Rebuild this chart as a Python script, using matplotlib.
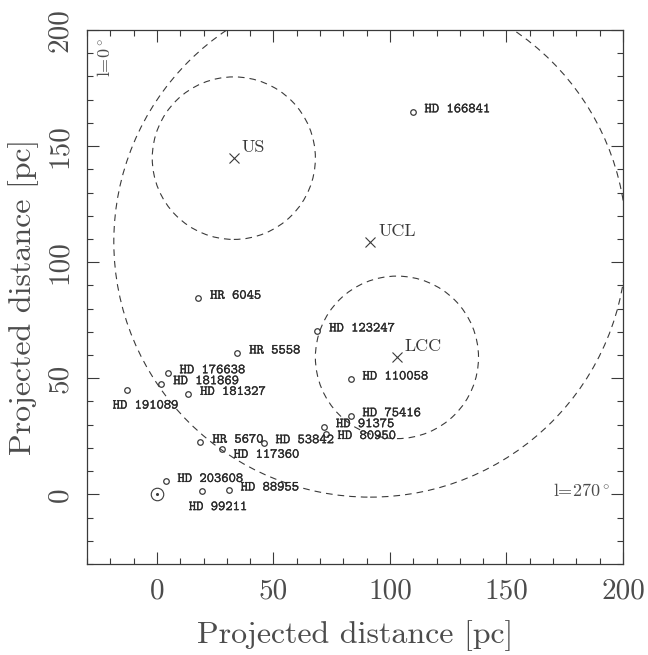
import matplotlib
matplotlib.use("Agg")
import matplotlib.pyplot as plt
from matplotlib.patches import Circle
import matplotlib.patheffects as pe

plt.rcParams['mathtext.fontset'] = 'cm'
plt.rcParams['axes.formatter.use_mathtext'] = True

# ---------------- data ----------------
star_names = ["HD 166841", "HR 6045", "HD 123247", "HR 5558", "HD 110058",
              "HD 176638", "HD 181869", "HD 181327", "HD 191089", "HD 75416",
              "HD 91375", "HD 80950", "HR 5670", "HD 53842", "HD 117360",
              "HD 203608", "HD 88955", "HD 99211"]
star_x = [109.7, 17.7, 68.8, 34.5, 83.1, 4.6, 1.9, 13.4, -13.0, 83.1,
          71.7, 72.4, 18.7, 45.8, 27.8, 3.7, 30.8, 19.4]
star_y = [164.8, 84.5, 70.4, 60.9, 49.7, 52.4, 47.7, 43.1, 45.1, 33.9,
          29.2, 26.0, 22.5, 22.3, 19.4, 5.6, 1.9, 1.4]

group_names = ["US", "UCL", "LCC"]
group_x = [33.0, 91.5, 103.0]
group_y = [144.8, 108.8, 59.0]
group_radius = [35, 110, 35]

sun_x = [0.0]
sun_y = [0.0]

tick_values = [0, 50, 100, 150, 200]
tick_labels = ["0", "50", "100", "150", "200"]

# ---------------- layout (label offsets in pixels) ----------------
label_offsets = {"HD 80950": (12, -1, "left"), "HD 117360": (12, -4.5, "left"),
                 "HD 191089": (19, -15, "center"), "HD 99211": (16, -15, "center")}
default_offset = (12, 3.4, "left")

INK = "#3a3a3a"
SOFT = "#4c4c4c"
fig = plt.figure(figsize=(6.48, 6.55), dpi=100)
ax = fig.add_axes([87 / 648, (655 - 564) / 655, 536 / 648, 534 / 655])
ax.set_xlim(-30, 200)
ax.set_ylim(-30, 200)

dash = (0, (6, 4.5))
for gx, gy, r in zip(group_x, group_y, group_radius):
    ax.add_patch(Circle((gx, gy), r, fill=False, ec=INK, lw=0.8, linestyle=dash))

ax.plot(group_x, group_y, linestyle="none", marker="x", ms=7, mew=0.8, color=INK)
for gx, gy, name in zip(group_x, group_y, group_names):
    ax.annotate(name, (gx, gy), xytext=(8, 6), textcoords="offset pixels",
                ha="left", va="baseline", fontsize=13, family="cmr10", color=INK)

ax.plot(star_x, star_y, linestyle="none", marker="o", ms=4, mfc="none",
        mew=0.9, color=INK)
semi = [pe.withStroke(linewidth=0.2, foreground="#2a2a2a")]
for sx, sy, name in zip(star_x, star_y, star_names):
    dx, dy, ha = label_offsets.get(name, default_offset)
    ax.annotate(name, (sx, sy), xytext=(dx, dy), textcoords="offset pixels",
                ha=ha, va="center_baseline", fontsize=10, family="cmtt10",
                color="#2a2a2a", path_effects=semi)

# Sun symbol
ax.plot(sun_x, sun_y, linestyle="none", marker="o", ms=9, mfc="none",
        mew=0.8, color=INK)
ax.plot(sun_x, sun_y, linestyle="none", marker="o", ms=1.2, color=INK)

ax.text(0.976, 0.137, r"l=270$^\circ$", transform=ax.transAxes, ha="right",
        va="center", fontsize=13, family="cmr10", color=SOFT)
ax.text(0.032, 0.948, r"l=0$^\circ$", transform=ax.transAxes, ha="center",
        va="center", rotation=90, fontsize=13, family="cmr10", color=SOFT)

# axes styling
ax.set_xticks(tick_values)
ax.set_yticks(tick_values)
ax.set_xticklabels(tick_labels, family="cmr10", fontsize=21, color=SOFT)
ax.set_yticklabels(tick_labels, family="cmr10", fontsize=21, color=SOFT,
                   rotation=90, va="center")
ax.set_xticks(range(-30, 201, 10), minor=True)
ax.set_yticks(range(-30, 201, 10), minor=True)
ax.tick_params(which="both", direction="in", top=True, right=True, color=INK,
               width=0.8)
ax.tick_params(which="major", length=8.6)
ax.tick_params(which="minor", length=4.5)
ax.tick_params(axis="x", pad=10)
ax.tick_params(axis="y", pad=10)
for s in ax.spines.values():
    s.set_color(INK)
    s.set_linewidth(0.9)

ax.set_xlabel("Projected distance [pc]", family="cmr10", fontsize=23, color=SOFT)
ax.set_ylabel("Projected distance [pc]", family="cmr10", fontsize=23, color=SOFT)
ax.xaxis.set_label_coords(0.5, (564 - 636) / 534)
ax.xaxis.label.set_va("center")
ax.yaxis.set_label_coords((24 - 87) / 536, 0.5)
ax.yaxis.label.set_va("center")

fig.savefig("out.png", dpi=100)
